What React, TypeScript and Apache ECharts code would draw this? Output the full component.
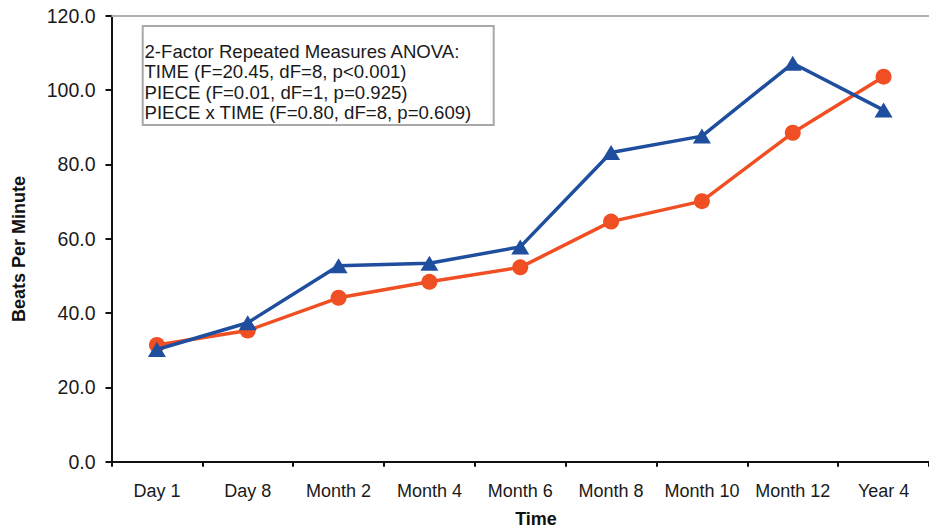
import React, { useEffect, useRef } from "react";
import * as echarts from "echarts";

const categories = ["Day 1", "Day 8", "Month 2", "Month 4", "Month 6", "Month 8", "Month 10", "Month 12", "Year 4"];
const pieceBlue = [30.2, 37.4, 52.7, 53.4, 57.8, 83.2, 87.6, 107.2, 94.6];
const pieceOrange = [31.4, 35.3, 44.1, 48.4, 52.3, 64.6, 70.1, 88.5, 103.6];
const annotationLines = [
  "2-Factor Repeated Measures ANOVA:",
  "TIME (F=20.45, dF=8, p<0.001)",
  "PIECE (F=0.01, dF=1, p=0.925)",
  "PIECE x TIME (F=0.80, dF=8, p=0.609)",
];

const FONT = "'Liberation Sans', Arial, sans-serif";
const BLUE = "#1F4E9E";
const ORANGE = "#F04F23";

export default function App() {
  const ref = useRef<HTMLDivElement>(null);
  useEffect(() => {
    if (!ref.current) return;
    const chart = echarts.init(ref.current, null, { renderer: "svg" });
    chart.setOption({
      animation: false,
      backgroundColor: "#ffffff",
      grid: { left: 111.5, top: 15.7, right: -7.7, bottom: 67.3, containLabel: false },
      xAxis: [
        {
          type: "category",
          data: categories,
          boundaryGap: true,
          position: "bottom",
          axisLine: { show: true, lineStyle: { color: "#111", width: 2 } },
          axisTick: { show: true, inside: false, length: 5, alignWithLabel: false, lineStyle: { color: "#111", width: 2 } },
          axisLabel: { color: "#1a1a1a", fontSize: 18, fontFamily: FONT, margin: 20, interval: 0 },
          splitLine: { show: false },
        },
        {
          type: "category",
          data: categories,
          position: "top",
          axisLine: { show: true, lineStyle: { color: "#B4B0AC", width: 2 } },
          axisTick: { show: false },
          axisLabel: { show: false },
          splitLine: { show: false },
        },
      ],
      yAxis: {
        type: "value",
        min: 0,
        max: 120,
        interval: 20,
        axisLine: { show: true, lineStyle: { color: "#111", width: 2 } },
        axisTick: { show: true, inside: false, length: 6, lineStyle: { color: "#111", width: 2 } },
        axisLabel: {
          color: "#1a1a1a",
          fontSize: 19.5,
          fontFamily: FONT,
          margin: 16,
          formatter: (v: number) => v.toFixed(1),
        },
        splitLine: { show: false },
      },
      graphic: [
        {
          type: "rect",
          left: 141.7,
          top: 25,
          shape: { width: 351, height: 99 },
          style: { fill: "#ffffff", stroke: "#A8A8A8", lineWidth: 2 },
          z: 10,
        },
        ...annotationLines.map((line, i) => ({
          type: "text",
          left: 144.5,
          top: 41.5 + i * 20.5,
          style: {
            text: line,
            fill: "#1a1a1a",
            font: `18.6px ${FONT}`,
          },
          z: 11,
        })),
        {
          type: "text",
          x: 536,
          y: 519,
          style: {
            text: "Time",
            fill: "#111",
            font: `bold 18px ${FONT}`,
            align: "center",
            verticalAlign: "middle",
          },
        },
        {
          type: "text",
          x: 19,
          y: 249,
          rotation: Math.PI / 2,
          style: {
            text: "Beats Per Minute",
            fill: "#111",
            font: `bold 18px ${FONT}`,
            align: "center",
            verticalAlign: "middle",
          },
        },
      ],
      series: [
        {
          name: "Piece (orange)",
          type: "line",
          data: pieceOrange,
          symbol: "circle",
          symbolSize: 16,
          lineStyle: { color: ORANGE, width: 3.5 },
          itemStyle: { color: ORANGE },
          z: 3,
        },
        {
          name: "Piece (blue)",
          type: "line",
          data: pieceBlue,
          symbol: "triangle",
          symbolSize: [18, 15],
          lineStyle: { color: BLUE, width: 3.5 },
          itemStyle: { color: BLUE },
          z: 4,
        },
      ],
    });
    return () => chart.dispose();
  }, []);
  return <div ref={ref} style={{ position: "fixed", left: 0, top: 0, width: 929, height: 529 }} />;
}
